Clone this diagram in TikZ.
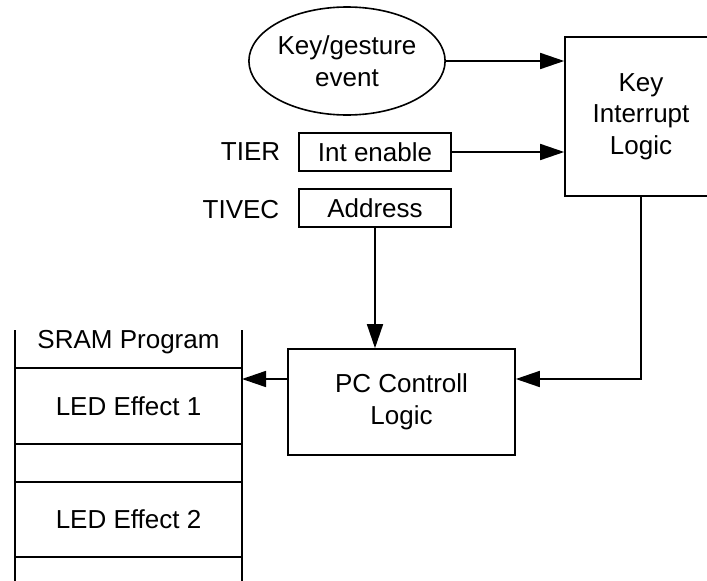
\documentclass[tikz,border=0pt]{standalone}
\usepackage{fontspec}
\setmainfont{Liberation Sans}
\usetikzlibrary{arrows.meta,shapes.geometric}
\begin{document}
\begin{tikzpicture}[x=1pt,y=-1pt,
  line width=1.6pt,
  every node/.style={font=\fontsize{26}{31.5}\selectfont, align=center, inner sep=0pt},
  blk/.style={draw, rectangle},
  arr/.style={-{Triangle[length=24pt,width=16pt]}},
  lbl/.style={anchor=east}
]
\useasboundingbox (0,0) rectangle (707,581);
\clip (0,0) rectangle (707,581);
% top-right block (extends past the right edge)
\node[blk, minimum width=152pt, minimum height=159pt] (ki) at (641,116.5) {Key\\Interrupt\\Logic};
% event ellipse
\node[draw, ellipse, minimum width=172pt, minimum height=108pt] (ev) at (347,61) {Key/gesture\\event};
% registers
\node[blk, minimum width=152pt, minimum height=38pt] (ie) at (375,152) {Int enable};
\node[blk, minimum width=152pt, minimum height=38pt] (ad) at (375,208) {Address};
\node[lbl] (tier) at (281,152) {TIER};
\node[lbl] (tivec) at (280,210) {TIVEC};
% PC control
\node[blk, minimum width=227pt, minimum height=106pt] (pc) at (401.5,402) {PC Controll\\Logic};
% SRAM program stack
\draw (15,330) -- (15,581) (242,330) -- (242,581);
\draw (15,368) -- (242,368) (15,444) -- (242,444) (15,482) -- (242,482) (15,557) -- (242,557);
\node (sram) at (128.5,342) {SRAM Program};
\node (led1) at (128.5,406) {LED Effect 1};
\node (led2) at (128.5,519.5) {LED Effect 2};
\coordinate (memR) at (242,379);
% connectors
\draw[arr] (ev.east) -- (ev.east -| ki.west);
\draw[arr] (ie.east) -- (ie.east -| ki.west);
\draw[arr] (ad.south) -- (ad.south |- pc.north);
\draw[arr] (ki.south) |- (pc.east |- memR);
\draw[arr] (pc.west |- memR) -- (memR);
\end{tikzpicture}
\end{document}
